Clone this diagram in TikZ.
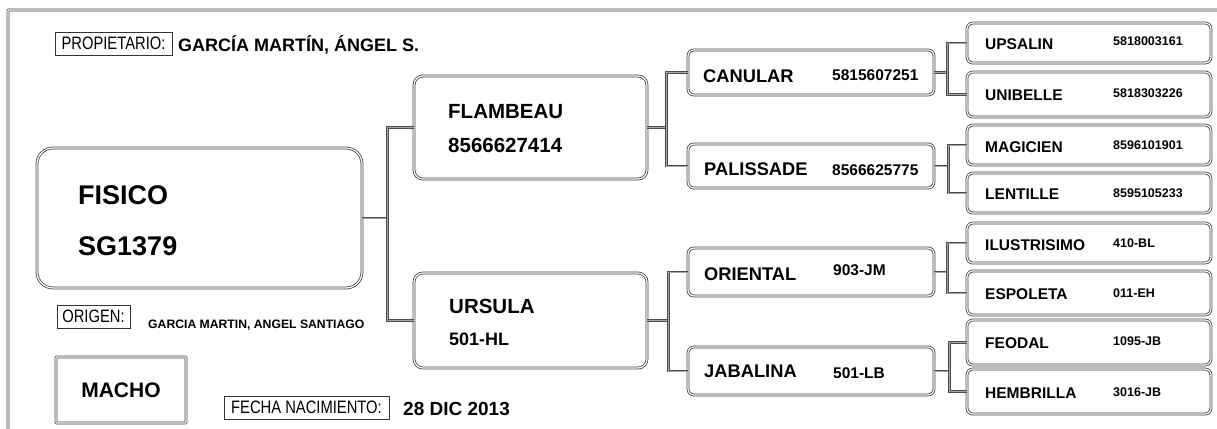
\documentclass[tikz,border=0pt]{standalone}
\usepackage{fontspec}
\setmainfont{Liberation Sans}
\newfontfamily\estrecha[FakeStretch=0.82]{Liberation Sans}
\usetikzlibrary{positioning}

\begin{document}
\begin{tikzpicture}[x=1pt,y=-1pt,
   borde/.style={draw=black!75,line width=0.8pt,double=white,double distance=1.2pt},
   caja1/.style={borde,rounded corners=16pt,inner sep=0pt},
   caja2/.style={borde,rounded corners=9pt,inner sep=0pt},
   caja3/.style={borde,rounded corners=6pt,inner sep=0pt},
   cajaS/.style={borde,rounded corners=0.5pt,inner sep=0pt},
   linea/.style={draw=black!70,line width=0.7pt,double=black!35,double distance=0.8pt},
   etiqueta/.style={draw=black!80,line width=0.6pt,inner sep=0pt,font=\estrecha\fontsize{18}{18}\selectfont},
   n1/.style={anchor=base west,inner sep=0pt,font=\bfseries\fontsize{27}{27}\selectfont},
   n2/.style={anchor=base west,inner sep=0pt,font=\bfseries\fontsize{20.5}{20.5}\selectfont},
   n3/.style={anchor=base west,inner sep=0pt,font=\bfseries\fontsize{18.3}{18.3}\selectfont},
   n4/.style={anchor=base west,inner sep=0pt,font=\bfseries\fontsize{15.5}{15.5}\selectfont},
   num3/.style={anchor=base west,inner sep=0pt,font=\bfseries\fontsize{15.5}{15.5}\selectfont},
   num4/.style={anchor=base west,inner sep=0pt,font=\bfseries\fontsize{12.5}{12.5}\selectfont}]
   \useasboundingbox (0,0) rectangle (1217,428);

   % 枠
   \draw[borde,rounded corners=0.5pt] (8,430) -- (8,10) -- (1219,10);

   % 見出し
   \node[etiqueta,minimum width=117,minimum height=23] (prop) at (113.5,43.5) {PROPIETARIO:};
   \node[anchor=base west,inner sep=0pt,font=\bfseries\fontsize{18}{18}\selectfont] (propN) at (178,52) {GARCÍA MARTÍN, ÁNGEL S.};

   % 本人
   \node[caja1,minimum width=325,minimum height=140] (fisico) at (199.5,218) {};
   \node[n1] (fisicoN) at (78,204) {FISICO};
   \node[n1] (fisicoR) at (78,255) {SG1379};

   \node[etiqueta,minimum width=73,minimum height=23] (origen) at (93.5,316.5) {ORIGEN:};
   \node[anchor=base west,inner sep=0pt,font=\bfseries\fontsize{12.2}{12.2}\selectfont] (origenN) at (148,328) {GARCIA MARTIN, ANGEL SANTIAGO};

   \node[cajaS,minimum width=130,minimum height=66,font=\bfseries\fontsize{21}{21}\selectfont] (sexo) at (121,390) {MACHO};

   \node[etiqueta,minimum width=165,minimum height=23] (fecha) at (306.5,407.5) {FECHA NACIMIENTO:};
   \node[anchor=base west,inner sep=0pt,font=\bfseries\fontsize{19}{19}\selectfont] (fechaN) at (403,415) {28 DIC 2013};

   % 両親
   \node[caja2,minimum width=233,minimum height=103] (flambeau) at (530.5,127.5) {};
   \node[n2] (flambeauN) at (448,118) {FLAMBEAU};
   \node[n2] (flambeauR) at (448,152) {8566627414};

   \node[caja2,minimum width=233,minimum height=95] (ursula) at (530.5,320.5) {};
   \node[n2] (ursulaN) at (449,313) {URSULA};
   \node[n2,font=\bfseries\fontsize{18}{18}\selectfont] (ursulaR) at (449,345) {501-HL};

   % 祖父母
   \node[caja3,minimum width=246,minimum height=45] (canular) at (811,72.5) {};
   \node[n3] (canularN) at (703,82) {CANULAR};
   \node[num3] (canularR) at (832,80) {5815607251};

   \node[caja3,minimum width=246,minimum height=44] (palissade) at (811,166) {};
   \node[n3] (palissadeN) at (704,175) {PALISSADE};
   \node[num3] (palissadeR) at (832,175) {8566625775};

   \node[caja3,minimum width=246,minimum height=48] (oriental) at (811,272) {};
   \node[n3] (orientalN) at (704,280) {ORIENTAL};
   \node[num3] (orientalR) at (833,275) {903-JM};

   \node[caja3,minimum width=246,minimum height=48] (jabalina) at (811,371) {};
   \node[n3] (jabalinaN) at (704,377) {JABALINA};
   \node[num3] (jabalinaR) at (833,378) {501-LB};

   % 曾祖父母
   \node[caja3,minimum width=244,minimum height=40] (upsalin) at (1089,43) {};
   \node[n4] (upsalinN) at (985,50) {UPSALIN};
   \node[num4] (upsalinR) at (1113,46) {5818003161};

   \node[caja3,minimum width=244,minimum height=45] (unibelle) at (1089,94.5) {};
   \node[n4] (unibelleN) at (985,100) {UNIBELLE};
   \node[num4] (unibelleR) at (1113,97) {5818303226};

   \node[caja3,minimum width=244,minimum height=40] (magicien) at (1089,145) {};
   \node[n4] (magicienN) at (985,152) {MAGICIEN};
   \node[num4] (magicienR) at (1113,149) {8596101901};

   \node[caja3,minimum width=244,minimum height=40] (lentille) at (1089,193) {};
   \node[n4] (lentilleN) at (985,199) {LENTILLE};
   \node[num4] (lentilleR) at (1113,197) {8595105233};

   \node[caja3,minimum width=244,minimum height=40] (ilustrisimo) at (1089,243) {};
   \node[n4] (ilustrisimoN) at (985,250) {ILUSTRISIMO};
   \node[num4] (ilustrisimoR) at (1113,247) {410-BL};

   \node[caja3,minimum width=244,minimum height=44] (espoleta) at (1089,293) {};
   \node[n4] (espoletaN) at (985,299) {ESPOLETA};
   \node[num4] (espoletaR) at (1113,297) {011-EH};

   \node[caja3,minimum width=244,minimum height=45] (feodal) at (1089,342.5) {};
   \node[n4] (feodalN) at (985,348) {FEODAL};
   \node[num4] (feodalR) at (1113,345) {1095-JB};

   \node[caja3,minimum width=244,minimum height=45] (hembrilla) at (1089,391.5) {};
   \node[n4] (hembrillaN) at (985,398) {HEMBRILLA};
   \node[num4] (hembrillaR) at (1113,396) {3016-JB};

   % 接続線
   \coordinate[right=25pt of fisico.east] (r1);
   \coordinate[right=19pt of flambeau.east] (r2);
   \coordinate[right=21pt of ursula.east] (r3);
   \coordinate[right=13pt of canular.east] (r4);
   \coordinate[right=14pt of palissade.east] (r5);
   \coordinate[right=13pt of oriental.east] (r6);
   \coordinate[right=15pt of jabalina.east] (r7);

   \draw[linea] (fisico.east) -- (r1);
   \draw[linea] (flambeau.west) -| (r1) |- (ursula.west);
   \draw[linea] (flambeau.east) -- (r2);
   \draw[linea] (canular.west) -| (r2) |- (palissade.west);
   \draw[linea] (ursula.east) -- (r3);
   \draw[linea] (oriental.west) -| (r3) |- (jabalina.west);
   \draw[linea] (canular.east) -- (r4);
   \draw[linea] (upsalin.west) -| (r4) |- (unibelle.west);
   \draw[linea] (palissade.east) -- (r5);
   \draw[linea] (magicien.west) -| (r5) |- (lentille.west);
   \draw[linea] (oriental.east) -- (r6);
   \draw[linea] (ilustrisimo.west) -| (r6) |- (espoleta.west);
   \draw[linea] (jabalina.east) -- (r7);
   \draw[linea] (feodal.west) -| (r7) |- (hembrilla.west);

\end{tikzpicture}
\end{document}
